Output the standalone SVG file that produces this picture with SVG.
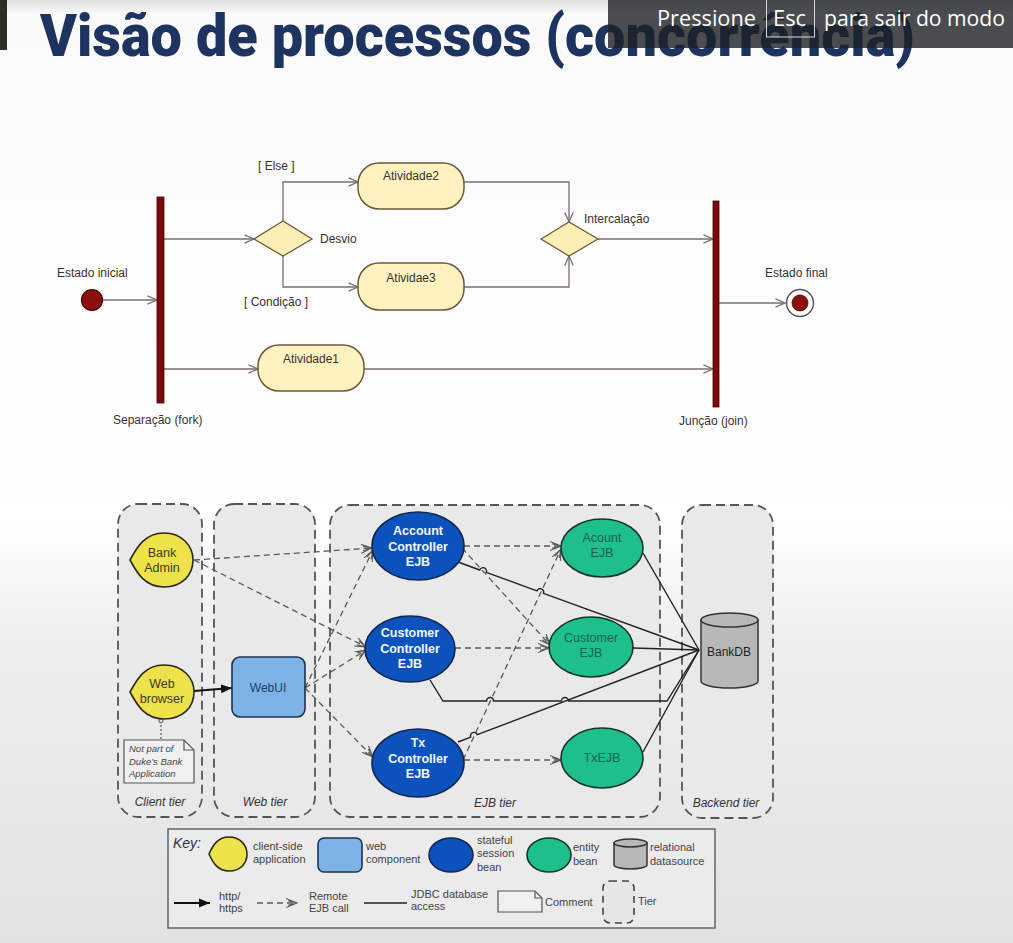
<svg xmlns="http://www.w3.org/2000/svg" width="1013" height="943" viewBox="0 0 1013 943">
  <style>
    .uml-label { font-family: "Liberation Sans", Arial, sans-serif; font-size: 12px; fill: #3a3030; }
    .uml-line { fill: none; stroke: #7b6d6d; stroke-width: 1.3; }
    .activity { fill: #fdf2c0; stroke: #6a5a3a; stroke-width: 1.5; }
    .decision { fill: #fbefb5; stroke: #6a5a3a; stroke-width: 1.3; }
    .bar { fill: #7a0a0a; stroke: #4a0000; stroke-width: 0.8; }
    .tier { fill: #e9e9e9; stroke: #555; stroke-width: 1.8; stroke-dasharray: 9 5; }
    .tier-label { font-family: "Liberation Sans", Arial, sans-serif; font-size: 12px; font-style: italic; fill: #333; text-anchor: middle; }
    .client { fill: #eee24a; stroke: #2a2a1a; stroke-width: 1.6; }
    .client-text { font-family: "Liberation Sans", Arial, sans-serif; font-size: 12.5px; fill: #3a3a20; text-anchor: middle; }
    .web { fill: #7db2e6; stroke: #1d3350; stroke-width: 1.6; }
    .session { fill: #0c52bd; stroke: #14254f; stroke-width: 1.6; }
    .session-text { font-family: "Liberation Sans", Arial, sans-serif; font-size: 12.5px; font-weight: bold; fill: #f4f8ff; text-anchor: middle; }
    .entity { fill: #1dc08c; stroke: #17322a; stroke-width: 1.6; }
    .entity-text { font-family: "Liberation Sans", Arial, sans-serif; font-size: 12.5px; fill: #14654a; text-anchor: middle; }
    .db { fill: #b8b8b8; stroke: #333; stroke-width: 1.5; }
    .remote { fill: none; stroke: #5a5a5a; stroke-width: 1.3; stroke-dasharray: 6 4; }
    .jdbc { fill: none; stroke: #222; stroke-width: 1.4; }
    .key-text { font-family: "Liberation Sans", Arial, sans-serif; font-size: 11px; fill: #444; }
  </style>
  <defs>
    <linearGradient id="slide-bg" x1="0" y1="0" x2="0" y2="1">
      <stop offset="0" stop-color="#dedede"/>
      <stop offset="0.015" stop-color="#fafafa"/>
      <stop offset="0.55" stop-color="#ffffff"/>
      <stop offset="0.68" stop-color="#eeeeee"/>
      <stop offset="1" stop-color="#e2e2e2"/>
    </linearGradient>
    <marker id="uml-arrow" viewBox="0 0 12 10" refX="10.5" refY="5" markerWidth="12" markerHeight="10" markerUnits="userSpaceOnUse" orient="auto">
      <path d="M1,0.8 L10.5,5 L1,9.2" fill="none" stroke="#7b6d6d" stroke-width="1.3"/>
    </marker>
    <marker id="http-arrow" viewBox="0 0 12 10" refX="11" refY="5" markerWidth="12" markerHeight="10" markerUnits="userSpaceOnUse" orient="auto">
      <path d="M0,0.5 L11,5 L0,9.5 Z" fill="#111"/>
    </marker>
    <marker id="ejb-arrow" viewBox="0 0 12 10" refX="11" refY="5" markerWidth="12" markerHeight="10" markerUnits="userSpaceOnUse" orient="auto">
      <path d="M0,0.5 L11,5 L0,9.5 M2,2.8 L11,5 L2,7.2" fill="none" stroke="#5a5a5a" stroke-width="1.1"/>
    </marker>
  </defs>

  <!-- slide background -->
  <rect x="0" y="0" width="1013" height="943" fill="url(#slide-bg)"/>
  <rect x="0" y="0" width="7" height="50" fill="#2f2e26"/>

  <!-- slide title -->
  <text x="40" y="56" font-family="Roboto, 'Liberation Sans', sans-serif" font-size="60" font-weight="900" fill="#1d3461" textLength="875" lengthAdjust="spacingAndGlyphs">Visão de processos (concorrência)</text>

  <!-- ===== Activity diagram ===== -->
  <g id="activity-connectors">
    <path class="uml-line" d="M103,300 L157,300" marker-end="url(#uml-arrow)"/>
    <path class="uml-line" d="M164,239 L254,239" marker-end="url(#uml-arrow)"/>
    <path class="uml-line" d="M283,221 L283,182 L358,182" marker-end="url(#uml-arrow)"/>
    <path class="uml-line" d="M283,256 L283,287 L358,287" marker-end="url(#uml-arrow)"/>
    <path class="uml-line" d="M164,369 L258,369" marker-end="url(#uml-arrow)"/>
    <path class="uml-line" d="M464,182 L569,182 L569,222" marker-end="url(#uml-arrow)"/>
    <path class="uml-line" d="M464,287 L569,287 L569,256" marker-end="url(#uml-arrow)"/>
    <path class="uml-line" d="M598,239 L713,239" marker-end="url(#uml-arrow)"/>
    <path class="uml-line" d="M364,369 L713,369" marker-end="url(#uml-arrow)"/>
    <path class="uml-line" d="M719,303 L785,303" marker-end="url(#uml-arrow)"/>
  </g>

  <g id="initial-state">
    <circle cx="92" cy="300" r="10.5" fill="#8b0f0f" stroke="#4a0505" stroke-width="1.2"/>
    <text class="uml-label" x="57" y="277">Estado inicial</text>
  </g>
  <g id="fork">
    <rect class="bar" x="157" y="197" width="7" height="206"/>
    <text class="uml-label" x="113" y="424">Separação (fork)</text>
  </g>
  <g id="decision-desvio">
    <polygon class="decision" points="254,239 283,221 312,239 283,256"/>
    <text class="uml-label" x="320" y="243">Desvio</text>
    <text class="uml-label" x="258" y="170">[ Else ]</text>
    <text class="uml-label" x="244" y="306">[ Condição ]</text>
  </g>
  <g id="activity-2">
    <rect class="activity" x="358" y="163" width="106" height="46" rx="21"/>
    <text class="uml-label" x="411" y="180" text-anchor="middle">Atividade2</text>
  </g>
  <g id="activity-3">
    <rect class="activity" x="358" y="263" width="106" height="47" rx="21"/>
    <text class="uml-label" x="411" y="282" text-anchor="middle">Atividae3</text>
  </g>
  <g id="activity-1">
    <rect class="activity" x="258" y="345" width="106" height="46" rx="21"/>
    <text class="uml-label" x="311" y="363" text-anchor="middle">Atividade1</text>
  </g>
  <g id="merge-intercalacao">
    <polygon class="decision" points="541,239 569,222 598,239 569,256"/>
    <text class="uml-label" x="584" y="223">Intercalação</text>
  </g>
  <g id="join">
    <rect class="bar" x="713" y="201" width="6" height="206"/>
    <text class="uml-label" x="679" y="425">Junção (join)</text>
  </g>
  <g id="final-state">
    <circle cx="800" cy="303" r="13.5" fill="#ffffff" stroke="#555" stroke-width="1.5"/>
    <circle cx="800" cy="303" r="8" fill="#8b0f0f" stroke="#4a0505" stroke-width="0.8"/>
    <text class="uml-label" x="765" y="277">Estado final</text>
  </g>

  <!-- ===== Duke's Bank architecture ===== -->
  <g id="tier-client">
    <rect class="tier" x="118" y="504" width="84" height="313" rx="20"/>
    <text class="tier-label" x="160" y="806">Client tier</text>
  </g>
  <g id="tier-web">
    <rect class="tier" x="214" y="504" width="101" height="313" rx="20"/>
    <text class="tier-label" x="265" y="806">Web tier</text>
  </g>
  <g id="tier-ejb">
    <rect class="tier" x="330" y="505" width="330" height="312" rx="20"/>
    <text class="tier-label" x="495" y="807">EJB tier</text>
  </g>
  <g id="tier-backend">
    <rect class="tier" x="682" y="505" width="91" height="313" rx="20"/>
    <text class="tier-label" x="726" y="807">Backend tier</text>
  </g>

  <g id="bank-connectors">
    <!-- remote EJB calls -->
    <path class="remote" d="M194,560 L372,548" marker-end="url(#ejb-arrow)"/>
    <path class="remote" d="M194,560 L366,647" marker-end="url(#ejb-arrow)"/>
    <path class="remote" d="M305,688 L373,550" marker-end="url(#ejb-arrow)"/>
    <path class="remote" d="M305,688 L366,650" marker-end="url(#ejb-arrow)"/>
    <path class="remote" d="M305,688 L373,757" marker-end="url(#ejb-arrow)"/>
    <path class="remote" d="M464,546 L561,546" marker-end="url(#ejb-arrow)"/>
    <path class="remote" d="M462,548 L550,645" marker-end="url(#ejb-arrow)"/>
    <path class="remote" d="M455,648 L549,648" marker-end="url(#ejb-arrow)"/>
    <path class="remote" d="M463,760 L561,549" marker-end="url(#ejb-arrow)"/>
    <path class="remote" d="M464,760 L561,760" marker-end="url(#ejb-arrow)"/>
    <!-- JDBC access, with hops where lines cross -->
    <path class="jdbc" d="M643,553 L699,650"/>
    <path class="jdbc" d="M458,562 L479.7,570 A3.5,3.5 0 0 1 486.3,572.4 L536.9,590.9 A3.5,3.5 0 0 1 543.5,593.3 L699,650"/>
    <path class="jdbc" d="M633,648 L699,650"/>
    <path class="jdbc" d="M430,680 L443,701 L486.6,701 A3.5,3.5 0 0 1 493.6,701 L561.5,701 A3.5,3.5 0 0 1 568.5,701 L667,701 L699,650"/>
    <path class="jdbc" d="M458,742 L470.7,737.2 A3.5,3.5 0 0 1 477.3,734.7 L699,650"/>
    <path class="jdbc" d="M643,752 L699,650"/>
    <!-- http from browser -->
    <path d="M194,691 L232,688" fill="none" stroke="#111" stroke-width="1.8" marker-end="url(#http-arrow)"/>
    <!-- comment anchor -->
    <path d="M161,721 L161,740" fill="none" stroke="#555" stroke-width="1.2" stroke-dasharray="2 2"/>
    <circle cx="161" cy="721" r="2" fill="#e6e6e6" stroke="#555" stroke-width="1"/>
  </g>

  <g id="bank-admin">
    <path class="client" d="M130,560 C137,547 145,533 164,533 C182,533 193,546 193,560 C193,575 182,587 164,587 C145,587 137,573 130,560 Z"/>
    <text class="client-text" x="162" y="557">Bank</text>
    <text class="client-text" x="162" y="572">Admin</text>
  </g>
  <g id="web-browser">
    <path class="client" d="M130,692 C137,679 145,665 164,665 C183,665 194,678 194,692 C194,707 183,719 164,719 C145,719 137,705 130,692 Z"/>
    <text class="client-text" x="162" y="688">Web</text>
    <text class="client-text" x="162" y="703">browser</text>
  </g>
  <g id="note-not-part">
    <path d="M124,740 L184,740 L194,750 L194,783 L124,783 Z" fill="#f0f0f0" stroke="#555" stroke-width="1.2"/>
    <path d="M184,740 L184,750 L194,750" fill="none" stroke="#555" stroke-width="1.2"/>
    <text x="129" y="752" font-family="'Liberation Sans', Arial, sans-serif" font-size="9.5" font-style="italic" fill="#444">Not part of</text>
    <text x="129" y="765" font-family="'Liberation Sans', Arial, sans-serif" font-size="9.5" font-style="italic" fill="#444">Duke’s Bank</text>
    <text x="129" y="777" font-family="'Liberation Sans', Arial, sans-serif" font-size="9.5" font-style="italic" fill="#444">Application</text>
  </g>
  <g id="web-ui">
    <rect class="web" x="232" y="657" width="73" height="60" rx="8"/>
    <text x="268" y="692" font-family="'Liberation Sans', Arial, sans-serif" font-size="12" fill="#1f3d6b" text-anchor="middle">WebUI</text>
  </g>
  <g id="account-controller">
    <ellipse class="session" cx="418" cy="546" rx="46" ry="34"/>
    <text class="session-text" x="418" y="535">Account</text>
    <text class="session-text" x="418" y="551">Controller</text>
    <text class="session-text" x="418" y="566">EJB</text>
  </g>
  <g id="customer-controller">
    <ellipse class="session" cx="410" cy="649" rx="45" ry="33"/>
    <text class="session-text" x="410" y="637">Customer</text>
    <text class="session-text" x="410" y="653">Controller</text>
    <text class="session-text" x="410" y="668">EJB</text>
  </g>
  <g id="tx-controller">
    <ellipse class="session" cx="418" cy="763" rx="46" ry="34"/>
    <text class="session-text" x="418" y="747">Tx</text>
    <text class="session-text" x="418" y="763">Controller</text>
    <text class="session-text" x="418" y="778">EJB</text>
  </g>
  <g id="acount-ejb">
    <ellipse class="entity" cx="602" cy="548" rx="41" ry="29"/>
    <text class="entity-text" x="602" y="542">Acount</text>
    <text class="entity-text" x="602" y="557">EJB</text>
  </g>
  <g id="customer-ejb">
    <ellipse class="entity" cx="591" cy="647" rx="42" ry="30"/>
    <text class="entity-text" x="591" y="642">Customer</text>
    <text class="entity-text" x="591" y="657">EJB</text>
  </g>
  <g id="tx-ejb">
    <ellipse class="entity" cx="602" cy="758" rx="41" ry="30"/>
    <text class="entity-text" x="602" y="762">TxEJB</text>
  </g>
  <g id="bank-db">
    <path class="db" d="M701,620 L701,681 A28.5,7 0 0 0 758,681 L758,620 Z"/>
    <ellipse class="db" cx="729.5" cy="620" rx="28.5" ry="7"/>
    <text x="729" y="656" font-family="'Liberation Sans', Arial, sans-serif" font-size="12" fill="#222" text-anchor="middle">BankDB</text>
  </g>

  <!-- legend -->
  <g id="legend">
    <rect x="168" y="829" width="547" height="99" fill="#ebebeb" stroke="#666" stroke-width="1.5"/>
    <text x="173" y="848" font-family="'Liberation Sans', Arial, sans-serif" font-size="14" font-style="italic" fill="#333">Key:</text>
    <path class="client" d="M209,854 C213,845 218,837 229,837 C240,837 247,845 247,854 C247,864 240,871 229,871 C218,871 213,863 209,854 Z"/>
    <text class="key-text" x="253" y="850">client-side</text>
    <text class="key-text" x="253" y="863">application</text>
    <rect class="web" x="318" y="838" width="44" height="34" rx="6"/>
    <text class="key-text" x="366" y="850">web</text>
    <text class="key-text" x="366" y="863">component</text>
    <ellipse class="session" cx="451" cy="855" rx="22" ry="17"/>
    <text class="key-text" x="477" y="844">stateful</text>
    <text class="key-text" x="477" y="857">session</text>
    <text class="key-text" x="477" y="871">bean</text>
    <ellipse class="entity" cx="549" cy="855" rx="22" ry="17"/>
    <text class="key-text" x="573" y="851">entity</text>
    <text class="key-text" x="573" y="865">bean</text>
    <path class="db" d="M614,843 L614,865 A16.5,4 0 0 0 647,865 L647,843 Z"/>
    <ellipse class="db" cx="630.5" cy="843" rx="16.5" ry="4"/>
    <text class="key-text" x="650" y="851">relational</text>
    <text class="key-text" x="650" y="865">datasource</text>

    <path d="M174,903 L210,903" fill="none" stroke="#111" stroke-width="1.8" marker-end="url(#http-arrow)"/>
    <text class="key-text" x="219" y="900">http/</text>
    <text class="key-text" x="219" y="912">https</text>
    <path class="remote" d="M257,903 L297,903" marker-end="url(#ejb-arrow)"/>
    <text class="key-text" x="309" y="900">Remote</text>
    <text class="key-text" x="309" y="912">EJB call</text>
    <path class="jdbc" d="M364,903 L407,903"/>
    <text class="key-text" x="411" y="898">JDBC database</text>
    <text class="key-text" x="411" y="910">access</text>
    <path d="M498,891 L535,891 L542,898 L542,912 L498,912 Z" fill="#f0f0f0" stroke="#555" stroke-width="1.2"/>
    <path d="M535,891 L535,898 L542,898" fill="none" stroke="#555" stroke-width="1.2"/>
    <text class="key-text" x="545" y="906">Comment</text>
    <rect x="603" y="881" width="31" height="42" rx="7" fill="#e6e6e6" stroke="#444" stroke-width="1.6" stroke-dasharray="7 5"/>
    <text class="key-text" x="638" y="905">Tier</text>
  </g>

  <!-- presentation-mode hint overlay -->
  <g id="fullscreen-hint">
    <rect x="608" y="0" width="405" height="48" fill="#1e2125" fill-opacity="0.8"/>
    <rect x="766.5" y="-1" width="48" height="38" fill="none" stroke="#d8d8d8" stroke-width="1"/>
    <text x="657" y="26" font-family="'Open Sans', 'Noto Sans', sans-serif" font-size="21" fill="#ffffff" textLength="99" lengthAdjust="spacingAndGlyphs">Pressione</text>
    <text x="773" y="26" font-family="'Open Sans', 'Noto Sans', sans-serif" font-size="21" fill="#ffffff" textLength="33" lengthAdjust="spacingAndGlyphs">Esc</text>
    <text x="824" y="26" font-family="'Open Sans', 'Noto Sans', sans-serif" font-size="21" fill="#ffffff" textLength="181" lengthAdjust="spacingAndGlyphs">para sair do modo</text>
  </g>
</svg>
